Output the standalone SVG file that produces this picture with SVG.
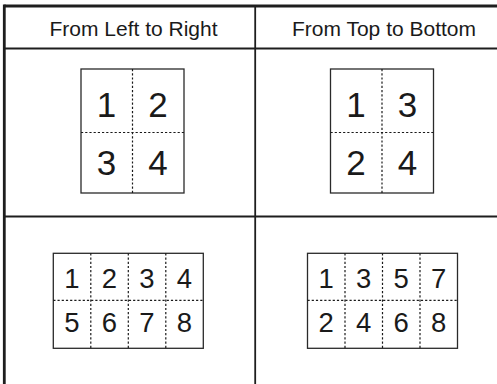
<svg xmlns="http://www.w3.org/2000/svg" width="497" height="384" viewBox="0 0 497 384">
<style>
.frame{stroke:#1e1e1e;fill:none}
.box{fill:#fff;stroke:#2a2a2a;stroke-width:1.3}
.dash{stroke:#1a1a1a;stroke-width:1.2;stroke-dasharray:2.2 2;fill:none}
.hdr{font-family:"Liberation Sans",Arial,sans-serif;font-size:21px;fill:#1a1a1a;text-anchor:middle}
.big{font-family:"Liberation Sans",Arial,sans-serif;font-size:35px;fill:#1a1a1a;text-anchor:middle}
.mid{font-family:"Liberation Sans",Arial,sans-serif;font-size:27.5px;fill:#1a1a1a;text-anchor:middle}
</style>
<rect width="497" height="384" fill="#fff"/>
<g id="table" class="frame">
<line x1="4.3" y1="6" x2="497" y2="6" stroke-width="2.8"/>
<line x1="4.3" y1="4.6" x2="4.3" y2="384" stroke-width="2.8"/>
<line x1="4.3" y1="48.5" x2="497" y2="48.5" stroke-width="1.8"/>
<line x1="4.3" y1="216.5" x2="497" y2="216.5" stroke-width="1.8"/>
<line x1="255.2" y1="6" x2="255.2" y2="384" stroke-width="1.8"/>
</g>
<g id="header-left"><text class="hdr" x="133.5" y="36">From Left to Right</text></g>
<g id="header-right"><text class="hdr" x="384" y="36">From Top to Bottom</text></g>
<g id="ltr-2x2">
<rect class="box" x="81" y="69" width="103" height="124"/>
<line class="dash" x1="132.5" y1="69" x2="132.5" y2="193"/>
<line class="dash" x1="81" y1="132.5" x2="184" y2="132.5"/>
<text class="big" x="106.5" y="117">1</text>
<text class="big" x="158" y="117">2</text>
<text class="big" x="106.5" y="175">3</text>
<text class="big" x="158" y="175">4</text>
</g>
<g id="ttb-2x2">
<rect class="box" x="330.5" y="69" width="103" height="124"/>
<line class="dash" x1="382" y1="69" x2="382" y2="193"/>
<line class="dash" x1="330.5" y1="132.5" x2="433.5" y2="132.5"/>
<text class="big" x="356" y="117">1</text>
<text class="big" x="407.5" y="117">3</text>
<text class="big" x="356" y="175">2</text>
<text class="big" x="407.5" y="175">4</text>
</g>
<g id="ltr-2x4">
<rect class="box" x="53.3" y="253.3" width="150" height="95"/>
<line class="dash" x1="90.8" y1="253.3" x2="90.8" y2="348.3"/>
<line class="dash" x1="128.3" y1="253.3" x2="128.3" y2="348.3"/>
<line class="dash" x1="165.8" y1="253.3" x2="165.8" y2="348.3"/>
<line class="dash" x1="53.3" y1="300.3" x2="203.3" y2="300.3"/>
<text class="mid" x="72" y="288">1</text>
<text class="mid" x="109.5" y="288">2</text>
<text class="mid" x="147" y="288">3</text>
<text class="mid" x="184.5" y="288">4</text>
<text class="mid" x="72" y="332">5</text>
<text class="mid" x="109.5" y="332">6</text>
<text class="mid" x="147" y="332">7</text>
<text class="mid" x="184.5" y="332">8</text>
</g>
<g id="ttb-2x4">
<rect class="box" x="307.5" y="253.3" width="150" height="95"/>
<line class="dash" x1="345" y1="253.3" x2="345" y2="348.3"/>
<line class="dash" x1="382.5" y1="253.3" x2="382.5" y2="348.3"/>
<line class="dash" x1="420" y1="253.3" x2="420" y2="348.3"/>
<line class="dash" x1="307.5" y1="300.3" x2="457.5" y2="300.3"/>
<text class="mid" x="326.2" y="288">1</text>
<text class="mid" x="363.7" y="288">3</text>
<text class="mid" x="401.2" y="288">5</text>
<text class="mid" x="438.7" y="288">7</text>
<text class="mid" x="326.2" y="332">2</text>
<text class="mid" x="363.7" y="332">4</text>
<text class="mid" x="401.2" y="332">6</text>
<text class="mid" x="438.7" y="332">8</text>
</g>
</svg>
